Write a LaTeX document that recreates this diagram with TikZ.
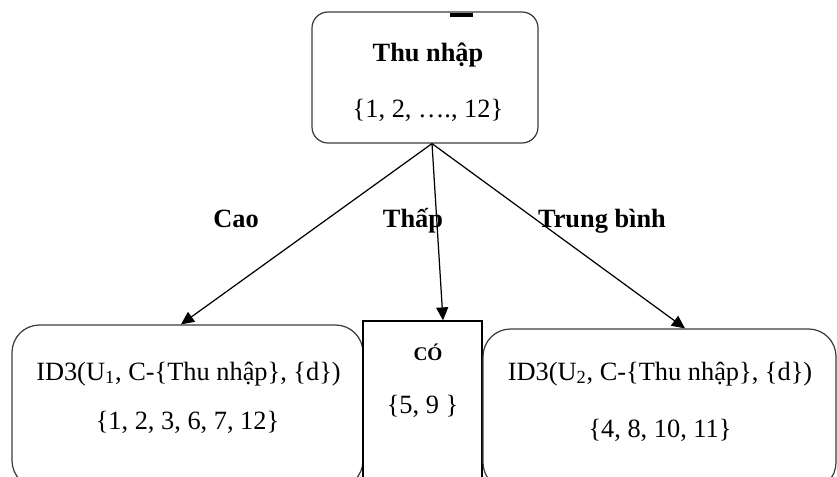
\documentclass[tikz,border=0pt]{standalone}
\usepackage{fontspec}
\setmainfont{Liberation Serif}
\usetikzlibrary{positioning, calc, arrows.meta}
\usepackage{xcolor}
\definecolor{edge}{RGB}{60,60,60}

\begin{document}
\begin{tikzpicture}[font=\fontsize{15pt}{18pt}\selectfont, >={Triangle[length=0.26cm, width=0.24cm]},
  splitbox/.style={draw=edge, line width=0.7pt, rounded corners=0.55cm},
  leafbox/.style={draw=black, line width=0.7pt},
  branch/.style={->, line width=0.7pt},
  txt/.style={anchor=base, inner sep=0pt},
  bold/.style={font=\fontsize{15pt}{18pt}\selectfont\bfseries}]
  \useasboundingbox (0,0) rectangle (16.74,9.52);
  \clip (0,0) rectangle (16.74,9.52);
  % root node
  \node[splitbox, rounded corners=0.32cm, minimum width=4.52cm, minimum height=2.62cm] (thunhap) at (8.50,7.97) {};
  \fill (9.00,9.18) rectangle (9.46,9.26);
  \node[txt, bold] (rootname) at (8.56,8.28) {Thu nhập};
  \node[txt] (rootset) at (8.56,7.16) {\{1, 2, …., 12\}};
  % children (cut off at the bottom edge)
  \node[splitbox, minimum width=7.02cm, minimum height=3.26cm] (cao) at (3.75,1.39) {};
  \node[leafbox, minimum width=2.38cm, minimum height=3.58cm] (thap) at (8.45,1.31) {};
  \node[splitbox, minimum width=7.06cm, minimum height=3.22cm] (tb) at (13.19,1.33) {};
  \node[txt] (caocall) at (3.77,1.92) {ID3(U\textsubscript{1}, C-\{Thu nhập\}, \{d\})};
  \node[txt] (caoset) at (3.75,0.94) {\{1, 2, 3, 6, 7, 12\}};
  \node[txt, font=\fontsize{11pt}{13pt}\selectfont\bfseries] (thapclass) at (8.56,2.32) {CÓ};
  \node[txt] (thapset) at (8.45,1.26) {\{5, 9 \}};
  \node[txt] (tbcall) at (13.20,1.92) {ID3(U\textsubscript{2}, C-\{Thu nhập\}, \{d\})};
  \node[txt] (tbset) at (13.20,0.78) {\{4, 8, 10, 11\}};
  % branches
  \draw[branch] ([xshift=0.14cm]thunhap.south) -- ([xshift=-0.13cm]cao.north);
  \draw[branch] ([xshift=0.14cm]thunhap.south) -- ([xshift=0.41cm]thap.north);
  \draw[branch] ([xshift=0.14cm]thunhap.south) -- ([xshift=0.51cm]tb.north);
  \node[txt, bold] (lcao) at (4.72,4.98) {Cao};
  \node[txt, bold] (lthap) at (8.26,4.98) {Thấp};
  \node[txt, bold] (ltb) at (12.04,4.98) {Trung bình};
\end{tikzpicture}
\end{document}
